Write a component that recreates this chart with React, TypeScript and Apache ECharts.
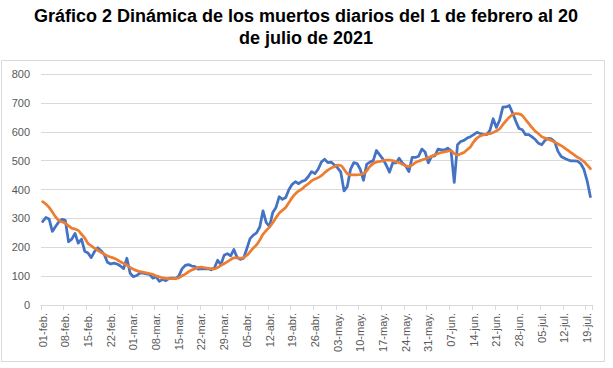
import React, { useEffect, useRef } from "react";
import * as echarts from "echarts";

const TITLE_LINES = [
  "Gráfico 2 Dinámica de los muertos diarios del 1 de febrero al 20",
  "de julio de 2021",
];

const MONTHS: [string, number][] = [
  ["feb", 28],
  ["mar", 31],
  ["abr", 30],
  ["may", 31],
  ["jun", 30],
  ["jul", 20],
];

const categories: string[] = [];
MONTHS.forEach(([m, n]) => {
  for (let d = 1; d <= n; d++) {
    categories.push((d < 10 ? "0" + d : "" + d) + "-" + m + ".");
  }
});

const Y_TICKS = [0, 100, 200, 300, 400, 500, 600, 700, 800];

const dailyDeaths = [
  289, 303, 298, 255, 272, 288, 297, 293, 219, 228,
  248, 214, 228, 186, 180, 164, 185, 198, 188, 175,
  148, 142, 145, 142, 135, 126, 162, 110, 98, 102,
  110, 110, 108, 106, 93, 98, 82, 89, 84, 92,
  93, 92, 100, 125, 137, 140, 135, 133, 124, 126,
  125, 126, 122, 128, 155, 140, 172, 178, 170, 192,
  165, 158, 162, 195, 230, 242, 250, 270, 326, 285,
  272, 320, 338, 375, 366, 372, 400, 418, 427, 420,
  428, 432, 445, 462, 455, 470, 495, 505, 493, 495,
  485, 475, 460, 395, 410, 470, 493, 490, 470, 432,
  488, 495, 500, 535, 520, 505, 485, 460, 492, 492,
  508, 492, 482, 462, 511, 511, 515, 540, 530, 492,
  515, 516, 540, 537, 537, 543, 535, 425, 555, 566,
  570, 578, 583, 590, 598, 594, 591, 590, 605, 645,
  615, 640, 685, 686, 691, 665, 636, 611, 607, 590,
  590, 582, 573, 560, 555, 570, 577, 575, 565, 532,
  514, 508, 503, 499, 499, 498, 490, 470, 430, 375,
];

const movingAverage = [
  358, 350, 338, 322, 305, 293, 288, 283, 274, 266,
  263, 258, 245, 232, 213, 205, 197, 190, 182, 176,
  170, 166, 162, 157, 150, 144, 138, 130, 124, 119,
  116, 114, 111, 109, 106, 101, 98, 94, 92, 91,
  91, 92, 94, 101, 107, 115, 121, 126, 130, 131,
  129, 127, 126, 125, 130, 137, 143, 150, 157, 163,
  163, 162, 164, 172, 184, 197, 208, 225, 245, 258,
  270, 285, 302, 318, 328, 338, 355, 372, 385, 395,
  402, 412, 420, 430, 436, 441, 448, 458, 467, 474,
  480, 484, 483, 470, 455, 451, 451, 451, 452, 455,
  465, 480, 490, 495, 497, 500, 502, 502, 500, 497,
  493, 487, 482, 480, 485, 493, 498, 502, 506, 510,
  515, 520, 524, 528, 530, 533, 535, 524, 520, 524,
  528, 538, 548, 565, 578, 585, 589, 592, 593, 597,
  603, 610, 625, 638, 650, 660, 663, 662, 656, 642,
  628, 614, 602, 593, 583, 578, 574, 570, 564, 558,
  552, 544, 536, 528, 520, 512, 505, 497, 485, 472,
];

const FONT = "'Liberation Sans', Arial, sans-serif";

export default function App() {
  const ref = useRef<HTMLDivElement>(null);

  useEffect(() => {
    if (!ref.current) return;
    const chart = echarts.init(ref.current, undefined, { renderer: "svg" });
    chart.setOption({
      animation: false,
      backgroundColor: "#ffffff",
      graphic: [
        {
          type: "text",
          x: 306,
          y: 16,
          silent: true,
          style: {
            text: TITLE_LINES[0],
            align: "center",
            verticalAlign: "middle",
            fontFamily: FONT,
            fontSize: 18,
            fontWeight: "bold",
            fill: "#000000",
          },
        },
        {
          type: "text",
          x: 306,
          y: 38,
          silent: true,
          style: {
            text: TITLE_LINES[1],
            align: "center",
            verticalAlign: "middle",
            fontFamily: FONT,
            fontSize: 18,
            fontWeight: "bold",
            fill: "#000000",
          },
        },
        {
          type: "rect",
          shape: { x: 1.5, y: 60.5, width: 603, height: 301 },
          style: { fill: "none", stroke: "#d9d9d9", lineWidth: 1 },
          silent: true,
        },
      ],
      grid: { left: 41, right: 21, top: 74, bottom: 63 },
      xAxis: {
        type: "category",
        data: categories,
        boundaryGap: true,
        axisLine: { lineStyle: { color: "#d9d9d9", width: 1 } },
        axisTick: { show: true, interval: 6, length: 5, lineStyle: { color: "#d9d9d9" } },
        axisLabel: {
          interval: 6,
          rotate: 90,
          margin: 8,
          fontSize: 11,
          color: "#595959",
          fontFamily: FONT,
        },
        splitLine: { show: false },
      },
      yAxis: {
        type: "value",
        min: Y_TICKS[0],
        max: Y_TICKS[Y_TICKS.length - 1],
        interval: 100,
        axisLine: { show: false },
        axisTick: { show: false },
        axisLabel: {
          margin: 11,
          fontSize: 11,
          color: "#595959",
          fontFamily: FONT,
        },
        splitLine: { lineStyle: { color: "#d9d9d9", width: 1 } },
      },
      series: [
        {
          name: "Muertos diarios",
          type: "line",
          data: dailyDeaths,
          showSymbol: false,
          symbol: "none",
          lineStyle: { color: "#4472C4", width: 2.75, join: "round", cap: "round" },
          itemStyle: { color: "#4472C4" },
        },
        {
          name: "Media móvil",
          type: "line",
          data: movingAverage,
          showSymbol: false,
          symbol: "none",
          smooth: 0.3,
          lineStyle: { color: "#ED7D31", width: 2.75, join: "round", cap: "round" },
          itemStyle: { color: "#ED7D31" },
        },
      ],
    });
    return () => chart.dispose();
  }, []);

  return (
    <div
      ref={ref}
      style={{ position: "fixed", left: 0, top: 0, width: 613, height: 368, background: "#fff" }}
    />
  );
}
